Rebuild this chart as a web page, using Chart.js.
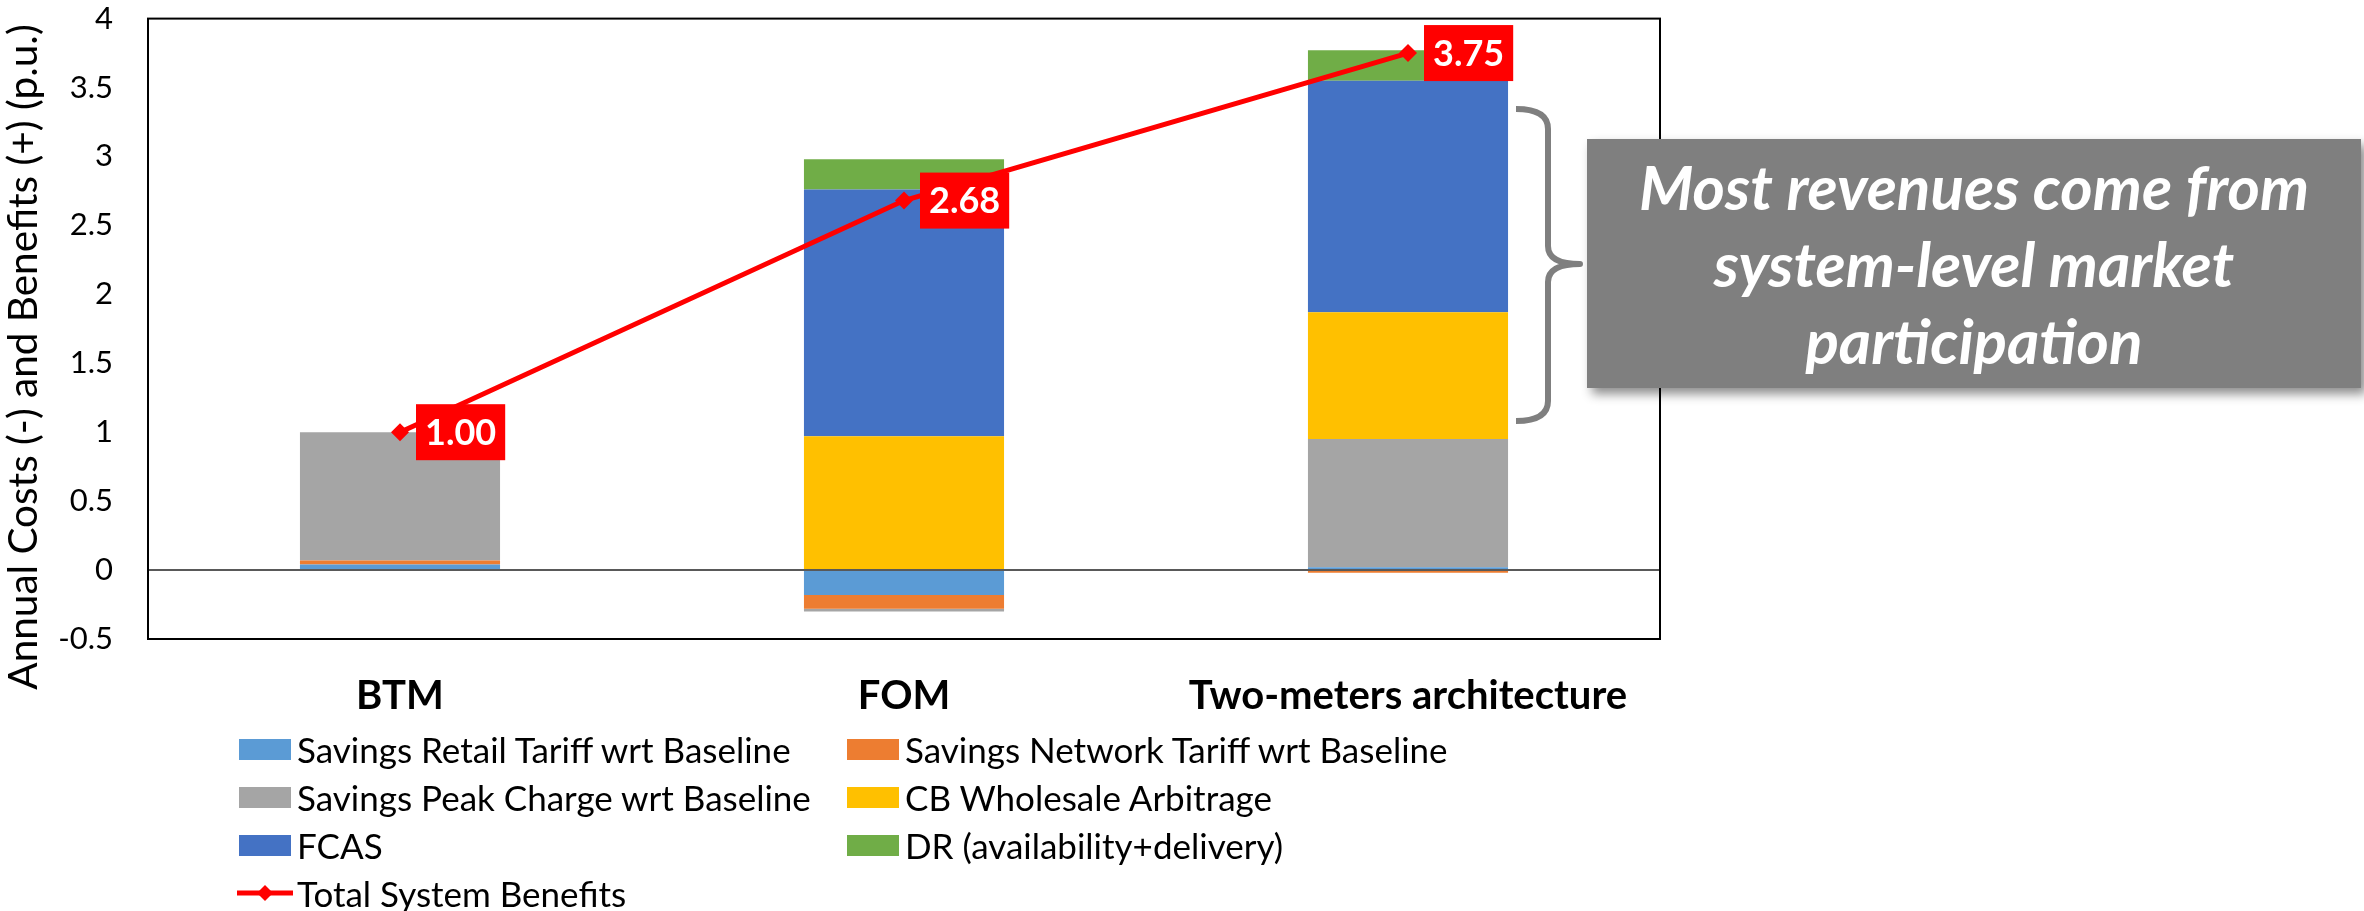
<!DOCTYPE html>
<html>
<head>
<meta charset="utf-8">
<title>Annual costs and benefits</title>
<script src="https://cdn.jsdelivr.net/npm/chart.js@4.4.0/dist/chart.umd.min.js"></script>
<style>
    html, body { margin: 0; padding: 0; background: #fff; }
    #wrap { position: relative; width: 2364px; height: 911px; overflow: hidden; }
    #chart { position: absolute; left: 0; top: 0; }
    #legend { position: absolute; left: 0; top: 0; font-family: Lato, sans-serif; font-size: 35px; color: #000; }
    .legend-item { position: absolute; display: flex; align-items: center; white-space: nowrap; height: 44px; }
    .swatch { width: 52px; height: 21px; margin-right: 6px; flex: none; }
    .swatch-line { width: 56px; height: 22px; margin-right: 4px; flex: none; }
</style>
</head>
<body>
<div id="wrap">
    <canvas id="chart" width="2364" height="911"></canvas>
    <div id="legend"></div>
</div>
<script>
// === DATA (p.u.) ===
const categories = ['BTM', 'FOM', 'Two-meters architecture'];
const retailTariffSavings = [0.04, -0.18, 0.02];
const networkTariffSavings = [0.03, -0.10, -0.02];
const peakChargeSavings = [0.93, -0.02, 0.93];
const wholesaleArbitrage = [0, 0.97, 0.92];
const fcasRevenue = [0, 1.79, 1.68];
const drRevenue = [0, 0.22, 0.22];
const totalSystemBenefits = [1.00, 2.68, 3.75];

const yMin = -0.5;
const yMax = 4;
const yStep = 0.5;
const yAxisTitle = 'Annual Costs (-) and Benefits (+) (p.u.)';

const annotationLines = ['Most revenues come from', 'system-level market', 'participation'];

// bar series, in stacking order
const barSeries = [
    { label: 'Savings Retail Tariff wrt Baseline', data: retailTariffSavings, color: '#5B9BD5' },
    { label: 'Savings Network Tariff wrt Baseline', data: networkTariffSavings, color: '#ED7D31' },
    { label: 'Savings Peak Charge wrt Baseline', data: peakChargeSavings, color: '#A5A5A5' },
    { label: 'CB Wholesale Arbitrage', data: wholesaleArbitrage, color: '#FFC000' },
    { label: 'FCAS', data: fcasRevenue, color: '#4472C4' },
    { label: 'DR (availability+delivery)', data: drRevenue, color: '#70AD47' }
];
const lineColor = '#FF0000';

// === PLUGINS ===
// frame round the plot area
const plotFrame = {
    id: 'plotFrame',
    beforeDatasetsDraw(chart) {
        const { ctx, chartArea: a } = chart;
        ctx.save();
        ctx.strokeStyle = '#000';
        ctx.lineWidth = 2;
        ctx.strokeRect(a.left, a.top, a.right - a.left, a.bottom - a.top);
        ctx.restore();
    }
};

// y axis title, sat a bit lower than the plot centre like in the original
const yTitle = {
    id: 'yTitle',
    afterDraw(chart) {
        const ctx = chart.ctx;
        ctx.save();
        ctx.translate(24, 357);
        ctx.rotate(-Math.PI / 2);
        ctx.font = '40.5px Lato';
        ctx.fillStyle = '#000';
        ctx.textAlign = 'center';
        ctx.textBaseline = 'middle';
        ctx.fillText(yAxisTitle, 0, 0);
        ctx.restore();
    }
};

// red value boxes next to the total line points
const totalLabels = {
    id: 'totalLabels',
    afterDatasetsDraw(chart) {
        const meta = chart.getDatasetMeta(0);
        const ctx = chart.ctx;
        ctx.save();
        ctx.font = 'bold 36px Lato';
        ctx.textAlign = 'center';
        ctx.textBaseline = 'middle';
        meta.data.forEach((pt, i) => {
            const text = totalSystemBenefits[i].toFixed(2);
            const w = ctx.measureText(text).width + 18;
            const h = 56;
            const x = pt.x + 16;
            ctx.fillStyle = lineColor;
            ctx.fillRect(x, pt.y - h / 2, w, h);
            ctx.fillStyle = '#fff';
            ctx.fillText(text, x + w / 2, pt.y + 1);
        });
        ctx.restore();
    }
};

// brace + grey call-out box on the right
const callout = {
    id: 'callout',
    afterDraw(chart) {
        const ctx = chart.ctx;
        const bx = 1516, sx = 1548, tip = 1580;
        const top = 109, mid = 264, bottom = 421;
        ctx.save();
        ctx.strokeStyle = '#7F7F7F';
        ctx.lineWidth = 6;
        ctx.lineJoin = 'round';
        ctx.beginPath();
        ctx.moveTo(bx, top);
        ctx.quadraticCurveTo(sx, top, sx, top + 20);
        ctx.lineTo(sx, mid - 18);
        ctx.quadraticCurveTo(sx, mid, tip, mid);
        ctx.quadraticCurveTo(sx, mid, sx, mid + 18);
        ctx.lineTo(sx, bottom - 20);
        ctx.quadraticCurveTo(sx, bottom, bx, bottom);
        ctx.stroke();

        ctx.shadowColor = 'rgba(0,0,0,0.45)';
        ctx.shadowBlur = 10;
        ctx.shadowOffsetX = 5;
        ctx.shadowOffsetY = 6;
        ctx.fillStyle = '#7F7F7F';
        ctx.fillRect(1587, 139, 774, 249);
        ctx.shadowColor = 'transparent';

        ctx.fillStyle = '#fff';
        ctx.font = 'italic bold 62px Lato';
        ctx.textAlign = 'center';
        ctx.textBaseline = 'alphabetic';
        annotationLines.forEach((line, i) => ctx.fillText(line, 1974, 210 + i * 77));
        ctx.restore();
    }
};

// === CHART ===
const chart = new Chart(document.getElementById('chart').getContext('2d'), {
    data: {
        labels: categories,
        datasets: [
            {
                type: 'line',
                label: 'Total System Benefits',
                data: totalSystemBenefits,
                borderColor: lineColor,
                backgroundColor: lineColor,
                borderWidth: 5,
                pointStyle: 'rectRot',
                pointRadius: 9,
                pointBorderWidth: 0,
                tension: 0,
                fill: false,
                stack: 'total',
                order: 0
            },
            ...barSeries.map(s => ({
                type: 'bar',
                label: s.label,
                data: s.data,
                backgroundColor: s.color,
                borderWidth: 0,
                stack: 'bar',
                order: 1,
                barPercentage: 1,
                categoryPercentage: 0.397
            }))
        ]
    },
    options: {
        responsive: false,
        devicePixelRatio: 1,
        animation: false,
        layout: { padding: { top: 16, right: 704, left: 0, bottom: 0 } },
        plugins: {
            legend: { display: false },
            tooltip: { enabled: false }
        },
        scales: {
            x: {
                stacked: true,
                grid: { display: false, drawTicks: false },
                border: { display: false },
                ticks: { color: '#000', padding: 33, font: { family: 'Lato', weight: 'bold', size: 40 } },
                afterFit: (scale) => { scale.height = 272; }
            },
            y: {
                stacked: true,
                min: yMin,
                max: yMax,
                z: 1,
                ticks: {
                    stepSize: yStep,
                    color: '#000',
                    padding: 0,
                    font: { family: 'Lato', size: 31 },
                    callback: (value) => String(value)
                },
                grid: {
                    drawTicks: true,
                    tickLength: 35,
                    tickColor: 'rgba(0,0,0,0)',
                    color: (ctx) => ctx.tick && ctx.tick.value === 0 ? '#595959' : 'rgba(0,0,0,0)',
                    lineWidth: 2
                },
                border: { display: false },
                afterFit: (scale) => { scale.width = 148; }
            }
        }
    },
    plugins: [plotFrame, totalLabels, yTitle, callout]
});

// === LEGEND (two columns, like the original) ===
const legendEl = document.getElementById('legend');
const colX = [239, 847];
const rowY = [749, 797, 845, 893];
barSeries.forEach((s, i) => {
    const item = document.createElement('div');
    item.className = 'legend-item';
    item.style.left = colX[i % 2] + 'px';
    item.style.top = (rowY[Math.floor(i / 2)] - 22) + 'px';
    item.innerHTML = `<span class="swatch" style="background:${s.color}"></span><span>${s.label}</span>`;
    legendEl.appendChild(item);
});
const lineItem = document.createElement('div');
lineItem.className = 'legend-item';
lineItem.style.left = (colX[0] - 2) + 'px';
lineItem.style.top = (rowY[3] - 22) + 'px';
lineItem.innerHTML = `<svg class="swatch-line" viewBox="0 0 56 22"><line x1="0" y1="11" x2="56" y2="11" stroke="${lineColor}" stroke-width="5"/><path d="M28 3 L36 11 L28 19 L20 11 Z" fill="${lineColor}"/></svg><span>${chart.data.datasets[0].label}</span>`;
legendEl.appendChild(lineItem);
</script>
</body>
</html>
